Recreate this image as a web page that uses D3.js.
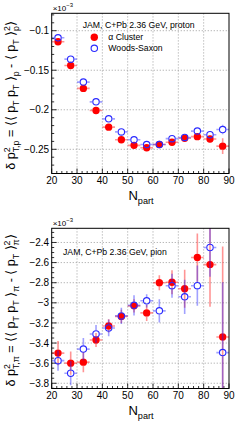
<!DOCTYPE html>
<html>
<head>
<meta charset="utf-8">
<script src="https://cdn.jsdelivr.net/npm/d3@7"></script>
<style>
  html, body { margin: 0; padding: 0; background: #fff; }
  svg { display: block; font-family: "Liberation Sans", Arial, sans-serif; }
</style>
</head>
<body>
<div class="viz"></div>
<script>
// N_part bin centres (bin half width 2.5)
const nPart = [22.5, 27.5, 32.5, 37.5, 42.5, 47.5, 52.5, 57.5, 62.5, 67.5, 72.5, 77.5, 82.5, 87.5];
const binHalf = 2.5;
const xTicks = [20, 30, 40, 50, 60, 70, 80, 90];

// proton panel, values x 10^-3
const protonCluster    = [-0.114, -0.144, -0.173, -0.201, -0.222, -0.238, -0.245, -0.248, -0.244, -0.241, -0.236, -0.234, -0.237, -0.246];
const protonClusterErr = [0.003, 0.003, 0.003, 0.003, 0.003, 0.003, 0.003, 0.003, 0.003, 0.003, 0.003, 0.004, 0.005, 0.010];
const protonWS         = [-0.109, -0.136, -0.165, -0.190, -0.2115, -0.228, -0.238, -0.244, -0.244, -0.2365, -0.235, -0.227, -0.2315, -0.225];
const protonWSErr      = [0.003, 0.003, 0.003, 0.003, 0.003, 0.003, 0.003, 0.003, 0.003, 0.003, 0.003, 0.004, 0.004, 0.006];
const protonYTicks = [-0.1, -0.15, -0.2, -0.25];
const protonYLabels = ["\u22120.1", "\u22120.15", "\u22120.2", "\u22120.25"];

// pion panel, values x 10^-3
const pionCluster    = [-3.50, -3.60, -3.59, -3.37, -3.23, -3.135, -3.03, -3.10, -2.80, -2.795, -2.86, -2.55, -2.62, -3.34];
const pionClusterErr = [0.12, 0.115, 0.10, 0.07, 0.066, 0.066, 0.066, 0.08, 0.075, 0.12, 0.19, 0.24, 0.42, 0.9];
const pionWS         = [-3.575, -3.70, -3.46, -3.31, -3.25, -3.13, -3.025, -2.98, -3.08, -2.83, -2.94, -2.83, -2.45, -3.495];
const pionWSErr      = [0.10, 0.12, 0.11, 0.09, 0.083, 0.08, 0.10, 0.066, 0.115, 0.12, 0.17, 0.2, 0.29, 0.7];
const pionYTicks = [-2.4, -2.6, -2.8, -3.0, -3.2, -3.4, -3.6, -3.8];
const pionYLabels = ["\u22122.4", "\u22122.6", "\u22122.8", "\u22123", "\u22123.2", "\u22123.4", "\u22123.6", "\u22123.8"];

const width = 244, height = 430;
const svg = d3.select(".viz").append("svg")
  .attr("width", width)
  .attr("height", height);

// text with super/subscripts, stack:true puts a script under the previous one
function rich(sel, parts, fs) {
  let cur = 0, lastW = 0;
  parts.forEach(p => {
    const size = p.k === "n" ? fs : fs * 0.7;
    const off = p.k === "sup" ? -0.42 * fs : p.k === "sub" ? 0.3 * fs : 0;
    const ts = sel.append("tspan").text(p.t)
      .attr("font-size", size)
      .attr("dy", off - cur);
    if (p.stack) ts.attr("dx", -lastW);
    cur = off;
    lastW = ts.node().getComputedTextLength();
  });
}

function drawPanel(cfg) {
  const left = 51.7, right = 229;
  const x = d3.scaleLinear().domain([20, 90]).range([left, right]);
  const y = d3.scaleLinear().domain(cfg.yDomain).range([cfg.bottom, cfg.top]);
  const g = svg.append("g");

  const clipId = "clip-" + cfg.name;
  svg.append("defs").append("clipPath").attr("id", clipId)
    .append("rect")
    .attr("x", left).attr("y", cfg.top)
    .attr("width", right - left).attr("height", cfg.bottom - cfg.top);

  // grid
  g.selectAll(".gx").data(xTicks.slice(1, -1)).enter().append("line")
    .attr("x1", d => x(d)).attr("x2", d => x(d))
    .attr("y1", cfg.top).attr("y2", cfg.bottom)
    .attr("stroke", "#9a9a9a").attr("stroke-width", 0.8).attr("stroke-dasharray", "1.2,1.8");
  g.selectAll(".gy").data(cfg.yTicks).enter().append("line")
    .attr("x1", left).attr("x2", right)
    .attr("y1", d => y(d)).attr("y2", d => y(d))
    .attr("stroke", "#9a9a9a").attr("stroke-width", 0.8).attr("stroke-dasharray", "1.2,1.8");

  // ticks (inside, ROOT style)
  const xMinor = d3.range(20, 90.01, 2);
  g.selectAll(".tx").data(xMinor).enter().append("line")
    .attr("x1", d => x(d)).attr("x2", d => x(d))
    .attr("y1", cfg.bottom).attr("y2", d => cfg.bottom - (d % 10 === 0 ? 5 : 2.5))
    .attr("stroke", "#000").attr("stroke-width", 0.8);
  const yMinor = d3.range(cfg.yTicks[cfg.yTicks.length - 1] - 2 * cfg.yMinorStep, cfg.yDomain[1], cfg.yMinorStep)
    .filter(v => v >= cfg.yDomain[0] && v <= cfg.yDomain[1]);
  g.selectAll(".ty").data(yMinor).enter().append("line")
    .attr("x1", left).attr("x2", d => left + (cfg.yTicks.some(t => Math.abs(t - d) < 1e-6) ? 5 : 2.5))
    .attr("y1", d => y(d)).attr("y2", d => y(d))
    .attr("stroke", "#000").attr("stroke-width", 0.8);

  // tick labels
  g.selectAll(".lx").data(xTicks).enter().append("text")
    .attr("x", d => x(d)).attr("y", cfg.bottom + 10.5)
    .attr("text-anchor", "middle").attr("font-size", 10)
    .text(d => d);
  g.selectAll(".ly").data(cfg.yTicks).enter().append("text")
    .attr("x", left - 2.5).attr("y", d => y(d) + 3.6)
    .attr("text-anchor", "end").attr("font-size", 10)
    .text((d, i) => cfg.yLabels[i]);

  // x10^-3
  const ex = g.append("text").attr("x", left + 1).attr("y", cfg.top - 2.5).attr("font-size", 8);
  ex.append("tspan").text("\u00d710");
  ex.append("tspan").text("\u22123").attr("font-size", 6).attr("dy", -3.5);

  // series
  const plot = g.append("g").attr("clip-path", `url(#${clipId})`);
  const r = 3.7;
  function series(vals, errs, errColor, marker) {
    const pts = nPart.map((n, i) => ({ n, v: vals[i], e: errs[i] }));
    const eg = plot.append("g").attr("stroke", errColor).attr("stroke-width", 1.6);
    pts.forEach(p => {
      const cx = x(p.n), cy = y(p.v);
      const segs = [
        [x(p.n - binHalf), cy, cx - r, cy],
        [cx + r, cy, x(p.n + binHalf), cy],
        [cx, y(p.v + p.e), cx, cy - r],
        [cx, cy + r, cx, y(p.v - p.e)]
      ];
      segs.forEach(s => {
        if (s[2] > s[0] || s[3] > s[1]) {
          eg.append("line").attr("x1", s[0]).attr("y1", s[1]).attr("x2", s[2]).attr("y2", s[3]);
        }
      });
    });
    plot.append("g").selectAll("circle").data(pts).enter().append("circle")
      .attr("cx", d => x(d.n)).attr("cy", d => y(d.v))
      .attr("r", marker === "filled" ? r : r - 0.5)
      .attr("fill", marker === "filled" ? "#ff0000" : "none")
      .attr("stroke", marker === "filled" ? "none" : "#2a2aff")
      .attr("stroke-width", 1.1);
  }
  series(cfg.cluster, cfg.clusterErr, "rgba(255,0,0,0.42)", "filled");
  series(cfg.ws, cfg.wsErr, "rgba(30,30,255,0.42)", "open");

  // frame
  g.append("rect")
    .attr("x", left).attr("y", cfg.top)
    .attr("width", right - left).attr("height", cfg.bottom - cfg.top)
    .attr("fill", "none").attr("stroke", "#000").attr("stroke-width", 1);

  // label
  g.append("text").attr("x", cfg.labelX).attr("y", cfg.labelY)
    .attr("font-size", 8.7).text(cfg.label);

  // axis titles
  const xt = g.append("text").attr("x", 141).attr("y", cfg.bottom + 26.5)
    .attr("text-anchor", "middle");
  rich(xt, [{ t: "N", k: "n" }, { t: "part", k: "sub" }], 13);

  const yt = g.append("text")
    .attr("transform", `translate(15,${(cfg.top + cfg.bottom) / 2 + 2}) rotate(-90)`)
    .attr("text-anchor", "middle");
  const s = cfg.species;
  rich(yt, [
    { t: "\u03b4 p", k: "n" }, { t: "2", k: "sup" }, { t: "T," + s, k: "sub", stack: true },
    { t: " = \u27e8\u27e8 p", k: "n" }, { t: "T", k: "sub" }, { t: " p", k: "n" }, { t: "T", k: "sub" },
    { t: " \u27e9", k: "n" }, { t: s, k: "sub" }, { t: " - \u27e8 p", k: "n" }, { t: "T", k: "sub" },
    { t: " \u27e9", k: "n" }, { t: "2", k: "sup" }, { t: s, k: "sub", stack: true }, { t: "\u27e9", k: "n" }
  ], 12.5);

  return { x, y };
}

drawPanel({
  name: "proton", top: 13.3, bottom: 173.5, yDomain: [-0.2806, -0.078],
  yTicks: protonYTicks, yLabels: protonYLabels, yMinorStep: 0.01,
  cluster: protonCluster, clusterErr: protonClusterErr, ws: protonWS, wsErr: protonWSErr,
  label: "JAM, C+Pb 2.36 GeV, proton", labelX: 82.7, labelY: 28, species: "p"
});

drawPanel({
  name: "pion", top: 228.3, bottom: 388.5, yDomain: [-3.852, -2.259],
  yTicks: pionYTicks, yLabels: pionYLabels, yMinorStep: 0.05,
  cluster: pionCluster, clusterErr: pionClusterErr, ws: pionWS, wsErr: pionWSErr,
  label: "JAM, C+Pb 2.36 GeV, pion", labelX: 63, labelY: 255.3, species: "\u03c0"
});

// legend (top panel)
const legend = svg.append("g");
const legendItems = ["\u03b1 Cluster", "Woods-Saxon"];
legend.selectAll("circle").data(legendItems).enter().append("circle")
  .attr("cx", 94.3).attr("cy", (d, i) => 37.3 + i * 11)
  .attr("r", (d, i) => i === 0 ? 3.7 : 3.2)
  .attr("fill", (d, i) => i === 0 ? "#ff0000" : "none")
  .attr("stroke", (d, i) => i === 0 ? "none" : "#2a2aff")
  .attr("stroke-width", 1.1);
legend.selectAll("text").data(legendItems).enter().append("text")
  .attr("x", 108.3).attr("y", (d, i) => 40.4 + i * 11)
  .attr("font-size", 8.7)
  .text(d => d);
</script>
</body>
</html>
